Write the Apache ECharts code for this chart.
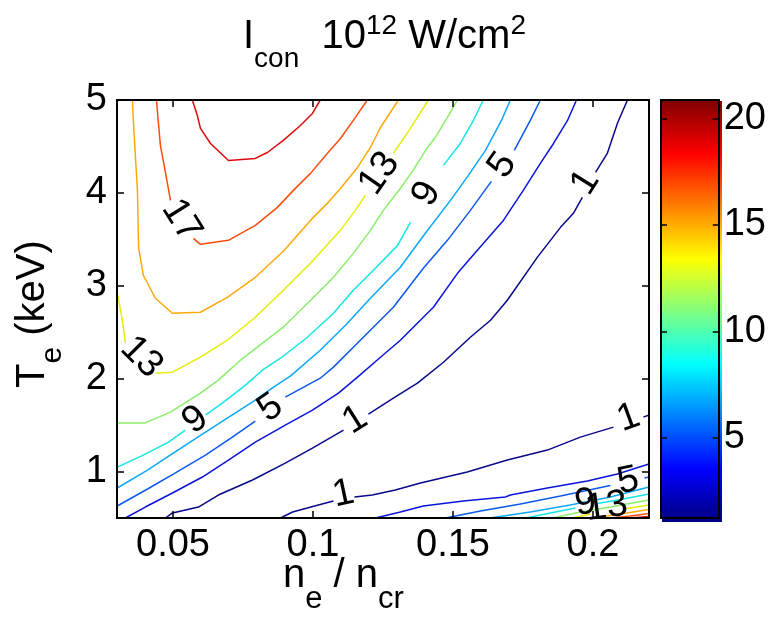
<!DOCTYPE html>
<html><head><meta charset="utf-8">
<script src="https://cdn.jsdelivr.net/npm/echarts@6/dist/echarts.min.js"></script>
<style>html,body{margin:0;padding:0;background:#fff}#c{width:769px;height:617px}</style>
</head><body><div id="c"></div>
<script>
// ---------- data ----------
const xTicks = [0.05, 0.1, 0.15, 0.2];
const yTicks = [1, 2, 3, 4, 5];
const cbTicks = [5, 10, 15, 20];
const xRange = [0.03, 0.22];
const yRange = [0.5, 5];
const cbRange = [1.24, 20.86];

// contour segments [n_e/n_cr, T_e] per level (gaps where labels sit)
const lvl19 = [[0.0569,5],[0.0587,4.833],[0.0598,4.694],[0.0634,4.532],[0.0698,4.349],[0.0794,4.371],[0.0837,4.435],[0.0894,4.565],[0.0955,4.726],[0.0998,4.855],[0.1026,5]];
const lvl17a = [[0.0441,5],[0.0448,4.747],[0.0455,4.511],[0.0473,4.220],[0.0491,3.919]];
const lvl17b = [[0.0573,3.511],[0.0598,3.446],[0.0698,3.489],[0.0794,3.651],[0.0873,3.844],[0.0930,4.027],[0.0991,4.210],[0.1051,4.425],[0.1098,4.586],[0.1144,4.780],[0.1194,5]];
const lvl15 = [[0.0355,5],[0.0359,4.747],[0.0366,4.382],[0.0373,4.027],[0.0377,3.414],[0.0394,3.113],[0.0409,3.027],[0.0437,2.866],[0.0498,2.704],[0.0598,2.715],[0.0694,2.876],[0.0794,3.091],[0.0894,3.371],[0.0991,3.704],[0.1051,3.887],[0.1098,4.048],[0.1159,4.274],[0.1205,4.489],[0.1241,4.704],[0.1305,5]];
const lvl13a = [[0.0301,2.930],[0.0319,2.629],[0.0330,2.382]];
const lvl13b = [[0.0437,2.059],[0.0498,2.070],[0.0598,2.231],[0.0694,2.414],[0.0794,2.661],[0.0894,2.952],[0.0991,3.242],[0.1098,3.597],[0.1151,3.812],[0.1187,3.973]];
const lvl13c = [[0.1287,4.425],[0.1348,4.694],[0.1412,5]];
const lvl11 = [[0.0301,1.522],[0.0398,1.522],[0.0491,1.640],[0.0598,1.844],[0.0662,1.984],[0.0741,2.199],[0.0801,2.339],[0.0894,2.554],[0.0991,2.844],[0.1073,3.091],[0.1144,3.349],[0.1205,3.597],[0.1251,3.812],[0.1312,4.048],[0.1362,4.263],[0.1409,4.489],[0.1437,4.597],[0.1480,4.812],[0.1516,5]];
const lvl9a = [[0.0301,1.048],[0.0394,1.177],[0.0484,1.317],[0.0544,1.446]];
const lvl9b = [[0.0616,1.608],[0.0676,1.737],[0.0759,1.930],[0.0819,2.091],[0.0884,2.220],[0.0980,2.446],[0.1073,2.704],[0.1144,2.952],[0.1216,3.167],[0.1302,3.435],[0.1348,3.683]];
const lvl9c = [[0.1466,4.296],[0.1526,4.532],[0.1573,4.780],[0.1608,5]];
const lvl7 = [[0.0301,0.823],[0.0409,1.016],[0.0501,1.199],[0.0616,1.425],[0.0705,1.597],[0.0794,1.769],[0.0859,1.909],[0.0919,2.027],[0.1026,2.306],[0.1116,2.575],[0.1205,2.866],[0.1312,3.199],[0.1401,3.565],[0.1491,3.919],[0.1555,4.188],[0.1616,4.457],[0.1673,4.780],[0.1705,5]];
const lvl5a = [[0.0301,0.629],[0.0409,0.812],[0.0501,0.973],[0.0616,1.177],[0.0712,1.371],[0.0794,1.543]];
const lvl5b = [[0.0901,1.801],[0.1026,2.005],[0.1073,2.124],[0.1169,2.414],[0.1287,2.769],[0.1394,3.188],[0.1480,3.489],[0.1562,3.812],[0.1637,4.124]];
const lvl5c = [[0.1719,4.457],[0.1776,4.780],[0.1812,5]];
const lvl3 = [[0.0330,0.5],[0.0401,0.618],[0.0498,0.769],[0.0605,0.941],[0.0698,1.124],[0.0794,1.317],[0.0901,1.500],[0.0998,1.661],[0.1091,1.844],[0.1159,2.016],[0.1241,2.231],[0.1312,2.414],[0.1430,2.769],[0.1516,3.134],[0.1587,3.382],[0.1680,3.704],[0.1751,4.027],[0.1812,4.317],[0.1859,4.532],[0.1909,4.780],[0.1941,5]];
const lvl1a = [[0.0473,0.5],[0.0498,0.554],[0.0591,0.618],[0.0662,0.747],[0.0784,0.909],[0.0901,1.091],[0.0998,1.253],[0.1109,1.446]];
const lvl1b = [[0.1198,1.618],[0.1287,1.790],[0.1373,1.952],[0.1466,2.177],[0.1562,2.446],[0.1634,2.629],[0.1694,2.844],[0.1801,3.306],[0.1884,3.629],[0.1930,3.780],[0.1962,3.952]];
const lvl1c = [[0.2009,4.220],[0.2051,4.425],[0.2087,4.747],[0.2123,5]];
// lower-right family
const lvl1d = [[0.0884,0.5],[0.0927,0.565],[0.1019,0.640],[0.1073,0.683]];
const lvl1e = [[0.1148,0.726],[0.1212,0.747],[0.1294,0.801],[0.1384,0.876],[0.1551,0.995],[0.1694,1.124],[0.1837,1.231],[0.1955,1.371],[0.2073,1.478]];
const lvl1f = [[0.2180,1.586],[0.22,1.608]];
const lvl3d = [[0.1223,0.5],[0.1312,0.565],[0.1394,0.629],[0.1537,0.683],[0.1687,0.726],[0.1705,0.747],[0.1837,0.823],[0.1980,0.898],[0.2087,0.973],[0.22,1.081]];
const lvl5d = [[0.1473,0.5],[0.1598,0.575],[0.1741,0.651],[0.1884,0.737],[0.2062,0.849]];
const lvl5e = [[0.2184,0.930],[0.22,0.941]];
const lvl7d = [[0.1633,0.5],[0.1776,0.565],[0.1919,0.640],[0.2062,0.726],[0.22,0.833]];
const lvl9d = [[0.1759,0.5],[0.1866,0.565],[0.1937,0.608]];
const lvl9e = [[0.2016,0.656],[0.2098,0.699],[0.22,0.758]];
const lvl11d = [[0.1855,0.5],[0.1955,0.565],[0.2062,0.618],[0.22,0.694]];
const lvl13d = [[0.1927,0.5],[0.1991,0.543]];
const lvl13e = [[0.2109,0.597],[0.22,0.640]];
const lvl15d = [[0.1998,0.5],[0.2098,0.543],[0.22,0.591]];
const lvl17d = [[0.2062,0.5],[0.2134,0.522],[0.22,0.548]];
const lvl19d = [[0.2127,0.5],[0.22,0.516]];

// contour labels: [x, y, text]
const contourLabels = [
  [0.0530,3.704,'17'],[0.0387,2.231,'13'],[0.1237,4.210,'13'],
  [0.0580,1.554,'9'],[0.1406,3.989,'9'],[0.0848,1.683,'5'],[0.1677,4.296,'5'],
  [0.1151,1.554,'1'],[0.1973,4.113,'1'],[0.1109,0.758,'1'],[0.2127,1.575,'1'],
  [0.2126,0.898,'5'],[0.1973,0.661,'9'],[0.2048,0.620,'13']
];
const labelAngles = [-58,-45,55, 37,60,35,55, 32,58,12,20, 12,8,8];

// jet colormap stops (fraction of colour range)
const jetStops = [[0,'#000080'],[0.125,'#0000ff'],[0.375,'#00ffff'],[0.625,'#ffff00'],[0.875,'#ff0000'],[1,'#800000']];

// ---------- styling ----------
const levelColor = {1:'#08088a',3:'#0a14dc',5:'#0a5af0',7:'#0aa8f8',9:'#14e6e6',11:'#8aee6a',13:'#e6ec0a',15:'#ffa80a',17:'#ff4c0a',19:'#dc0a0a'};
const segments = [
  [19,lvl19],[17,lvl17a],[17,lvl17b],[15,lvl15],[13,lvl13a],[13,lvl13b],[13,lvl13c],[11,lvl11],
  [9,lvl9a],[9,lvl9b],[9,lvl9c],[7,lvl7],[5,lvl5a],[5,lvl5b],[5,lvl5c],[3,lvl3],[1,lvl1a],[1,lvl1b],[1,lvl1c],
  [1,lvl1d],[1,lvl1e],[1,lvl1f],[3,lvl3d],[5,lvl5d],[5,lvl5e],[7,lvl7d],[9,lvl9d],[9,lvl9e],[11,lvl11d],
  [13,lvl13d],[13,lvl13e],[15,lvl15d],[17,lvl17d],[19,lvl19d]
];

const FONT = '"Liberation Sans", Arial, Helvetica, sans-serif';
const FS = 38;
const chart = echarts.init(document.getElementById('c'));

const mctx = document.createElement('canvas').getContext('2d');
function tw(t, s) { mctx.font = s + 'px ' + FONT; return mctx.measureText(t).width; }
function chain(x0, y0, parts) {
  let x = x0; const out = [];
  for (const [t, s, dy] of parts) {
    out.push({type:'text', x:x, y:y0 + dy, silent:true,
      style:{text:t, fontSize:s, fontFamily:FONT, fill:'#000', verticalAlign:'middle', align:'left'}});
    x += tw(t, s);
  }
  return out;
}

const boxLine = {show:true, onZero:false, lineStyle:{color:'#000', width:2}};
const tickStyle = {color:'#000', width:1.5};
const labelStyle = {color:'#000', fontSize:FS, fontFamily:FONT};
const hiddenAxis = {show:false};

const series = segments.map(([lv, pts]) => ({
  type:'line', xAxisIndex:0, yAxisIndex:0, data:pts, symbol:'none', showSymbol:false,
  lineStyle:{color:levelColor[lv], width:1.5}, silent:true, z:3
}));
series.push({
  type:'scatter', xAxisIndex:0, yAxisIndex:0, symbolSize:2, itemStyle:{color:'rgba(0,0,0,0)'}, silent:true, z:5,
  data: contourLabels.map((d, i) => ({value:[d[0], d[1]], label:{formatter:d[2], rotate:labelAngles[i]}})),
  label:{show:true, position:'inside', color:'#000', opacity:1, textBorderWidth:0, textBorderColor:'transparent',
         fontSize:FS, fontFamily:FONT}
});
// colour bar (image slightly offset from its box, like the original)
series.push({type:'bar', xAxisIndex:4, yAxisIndex:4, stack:'cb', barWidth:'100%', data:[cbRange[0]],
  itemStyle:{color:'rgba(0,0,0,0)'}, silent:true});
series.push({type:'bar', xAxisIndex:4, yAxisIndex:4, stack:'cb', barWidth:'100%', data:[cbRange[1]-cbRange[0]],
  itemStyle:{color:new echarts.graphic.LinearGradient(0,1,0,0, jetStops.map(s => ({offset:s[0], color:s[1]})))}, silent:true});

const graphics = [].concat(
  chain(243, 37, [['I',40,0],['con',28,22],['  10',40,0],['12',28,-11],[' W/cm',40,0],['2',28,-11]]),
  chain(283, 576, [['n',40,0],['e',31,23],[' / n',40,0],['cr',31,23]]),
  [{type:'group', x:33, y:388, rotation:Math.PI/2, children: chain(0, 0, [['T',40,0],['e',30,20],[' (keV)',40,0]])}]
);

chart.setOption({
  animation:false,
  backgroundColor:'#fff',
  grid:[
    {left:117, top:100, width:532, height:418, containLabel:false},
    {left:661, top:100, width:58, height:418, containLabel:false},
    {left:662, top:101, width:60, height:421, containLabel:false}
  ],
  xAxis:[
    {gridIndex:0, type:'value', min:xRange[0], max:xRange[1], position:'bottom', axisLine:boxLine,
     axisTick:{show:true, inside:true, length:7, customValues:xTicks, lineStyle:tickStyle},
     axisLabel:Object.assign({show:true, margin:9, customValues:xTicks, formatter:v => String(v)}, labelStyle),
     splitLine:{show:false}, z:10},
    {gridIndex:0, type:'value', min:xRange[0], max:xRange[1], position:'top', axisLine:boxLine,
     axisTick:{show:true, inside:true, length:7, customValues:xTicks, lineStyle:tickStyle},
     axisLabel:{show:false}, splitLine:{show:false}, z:10},
    {gridIndex:1, type:'category', data:[''], position:'bottom', axisLine:boxLine, axisTick:{show:false}, axisLabel:{show:false}, z:10},
    {gridIndex:1, type:'category', data:[''], position:'top', axisLine:boxLine, axisTick:{show:false}, axisLabel:{show:false}, z:10},
    {gridIndex:2, type:'category', data:[''], show:false}
  ],
  yAxis:[
    {gridIndex:0, type:'value', min:yRange[0], max:yRange[1], position:'left', axisLine:boxLine,
     axisTick:{show:true, inside:true, length:7, customValues:yTicks, lineStyle:tickStyle},
     axisLabel:Object.assign({show:true, margin:10, customValues:yTicks}, labelStyle),
     splitLine:{show:false}, z:10},
    {gridIndex:0, type:'value', min:yRange[0], max:yRange[1], position:'right', axisLine:boxLine,
     axisTick:{show:true, inside:true, length:7, customValues:yTicks, lineStyle:tickStyle},
     axisLabel:{show:false}, splitLine:{show:false}, z:10},
    {gridIndex:1, type:'value', min:cbRange[0], max:cbRange[1], position:'left', axisLine:boxLine,
     axisTick:{show:true, inside:true, length:6, customValues:cbTicks, lineStyle:tickStyle},
     axisLabel:{show:false}, splitLine:{show:false}, z:10},
    {gridIndex:1, type:'value', min:cbRange[0], max:cbRange[1], position:'right', axisLine:boxLine,
     axisTick:{show:true, inside:true, length:6, customValues:cbTicks, lineStyle:tickStyle},
     axisLabel:Object.assign({show:true, margin:5, customValues:cbTicks}, labelStyle),
     splitLine:{show:false}, z:10},
    {gridIndex:2, type:'value', min:cbRange[0], max:cbRange[1], show:false}
  ],
  graphic: graphics,
  series: series
});
</script>
</body></html>
